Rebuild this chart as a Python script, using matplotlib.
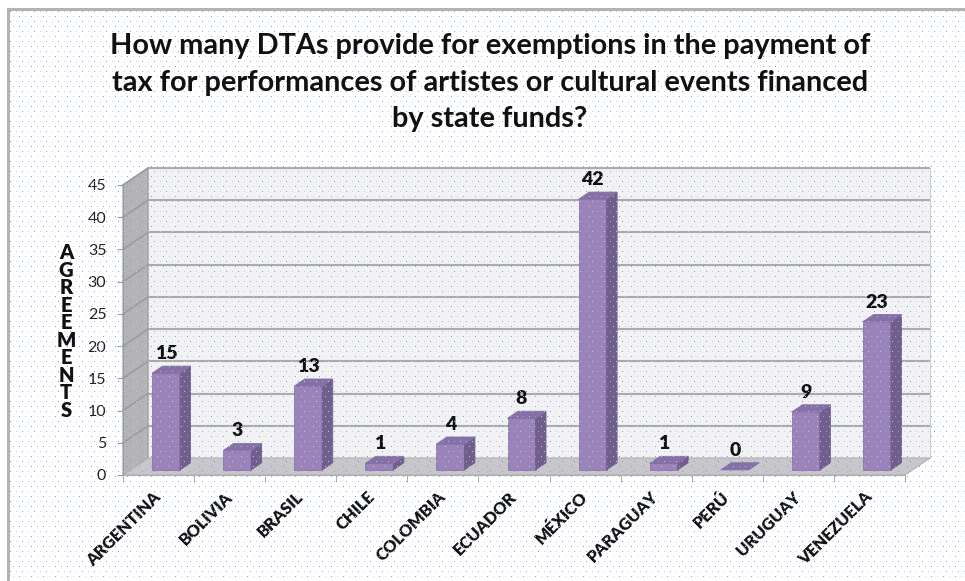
import numpy as np
import matplotlib
matplotlib.use("Agg")
import matplotlib.pyplot as plt
from matplotlib.patches import Polygon
from matplotlib.lines import Line2D

# data
countries = ["ARGENTINA", "BOLIVIA", "BRASIL", "CHILE", "COLOMBIA", "ECUADOR",
             "MÉXICO", "PARAGUAY", "PERÚ", "URUGUAY", "VENEZUELA"]
agreements = [15, 3, 13, 1, 4, 8, 42, 1, 0, 9, 23]
yticks = list(range(0, 46, 5))
title = ("How many DTAs provide for exemptions in the payment of\n"
         "tax for performances of artistes or cultural events financed\n"
         "by state funds?")
ylabel = "AGREEMENTS"

FONT = "Lato"
W, H = 965, 581

fig = plt.figure(figsize=(W / 100, H / 100), dpi=100)

# dotted background of the chart area
bg = np.zeros((H, W, 4))
for k, r in enumerate(range(11, H, 5)):
    off = 0 if k % 2 == 0 else 3
    for j, c in enumerate(range(10 + off, W, 6)):
        if (j + k) % 2 == 0:
            bg[r, c] = (0.45, 0.65, 0.87, 1.0)
        else:
            bg[r, c] = (0.75, 0.83, 0.93, 0.9)
fig.figimage(bg, 0, 0, zorder=0, origin="upper")

# thin gray frame on top/left
fig.add_artist(Line2D([7.5 / W, 7.5 / W], [0, 1 - 9 / H], color="#b3b3b3", lw=2.2,
                      transform=fig.transFigure))
fig.add_artist(Line2D([7.5 / W, 1], [1 - 9 / H, 1 - 9 / H], color="#b3b3b3", lw=2.2,
                      transform=fig.transFigure))

ax = fig.add_axes([123 / W, (H - 475) / H, 782 / W, 290 / H])
ax.patch.set_visible(False)
n = len(countries)
ax.set_xlim(0, n)
ax.set_ylim(0, 45)

# depth offsets of the pseudo-3D box, in data units
px_x = 782 / n
px_y = 290 / 45
DX = 25 / px_x
DY = 17 / px_y

wall_kw = dict(clip_on=False, lw=0.8)
# back wall
ax.add_patch(Polygon([(DX, DY), (n + DX, DY), (n + DX, 45 + DY), (DX, 45 + DY)],
                     closed=True, fc="#f2f2f4", ec="#d0d0d0", zorder=1, **wall_kw))
# side wall
ax.add_patch(Polygon([(0, 0), (DX, DY), (DX, 45 + DY), (0, 45)],
                     closed=True, fc="#b4b4b7", ec="#a0a0a0", zorder=1, **wall_kw))
# floor
ax.add_patch(Polygon([(0, 0), (n, 0), (n + DX, DY), (DX, DY)],
                     closed=True, fc="#c8c6ca", ec="#b0b0b0", zorder=1, **wall_kw))

# gridlines on back and side walls
for v in yticks[1:]:
    ax.plot([DX, n + DX], [v + DY, v + DY], color="#ababab", lw=1.5, zorder=2,
            clip_on=False, solid_capstyle="butt")
    ax.plot([0, DX], [v, v + DY], color="#9c9c9c", lw=1.2, zorder=2, clip_on=False)

# bars
BW = 28 / px_x
F0 = 0.30
DB = 0.42
front_c, side_c, top_c = "#9b83ba", "#725e8c", "#8670a5"
for i, v in enumerate(agreements):
    x0 = i + 0.5 - BW / 2 + F0 * DX
    y0 = F0 * DY
    ddx, ddy = DB * DX, DB * DY
    if v > 0:
        ax.add_patch(Polygon([(x0, y0), (x0 + BW, y0), (x0 + BW, y0 + v), (x0, y0 + v)],
                             closed=True, fc=front_c, ec="#8c74aa", lw=0.6, zorder=3, clip_on=False))
        ax.add_patch(Polygon([(x0 + BW, y0), (x0 + BW + ddx, y0 + ddy),
                              (x0 + BW + ddx, y0 + v + ddy), (x0 + BW, y0 + v)],
                             closed=True, fc=side_c, ec=side_c, lw=0.6, zorder=3, clip_on=False))
    ax.add_patch(Polygon([(x0, y0 + v), (x0 + BW, y0 + v), (x0 + BW + ddx, y0 + v + ddy),
                          (x0 + ddx, y0 + v + ddy)],
                         closed=True, fc=top_c, ec=top_c, lw=0.6, zorder=3, clip_on=False))
    ax.annotate(str(v), (x0 + BW / 2, y0 + v + ddy), xytext=(0, 5), textcoords="offset points",
                ha="center", va="baseline", fontsize=14, fontweight="heavy",
                family=FONT, color="#111111", zorder=4, annotation_clip=False)

# axes styling
for s in ("top", "right"):
    ax.spines[s].set_visible(False)
ax.spines["left"].set_color("#9a9a9a")
ax.spines["bottom"].set_color("#b0b0b0")
ax.spines["left"].set_zorder(2.5)
ax.spines["bottom"].set_zorder(2.5)

ax.set_yticks(yticks)
ax.set_yticklabels([str(t) for t in yticks], family=FONT, fontsize=11.5, color="#222222")
ax.tick_params(axis="y", direction="out", length=4, color="#a0a0a0", pad=8)

ax.set_xticks(np.arange(n + 1), minor=True)
ax.set_xticks(np.arange(n) + 0.5)
ax.set_xticklabels(countries, rotation=45, ha="right", va="center",
                   rotation_mode="anchor", family=FONT, fontsize=12, fontweight="heavy",
                   color="#111111")
ax.tick_params(axis="x", which="major", length=0, pad=14)
ax.tick_params(axis="x", which="minor", direction="out", length=5, color="#a0a0a0")

# title
fig.text(490 / W, 1 - 33 / H, title, ha="center", va="top", fontsize=20.8,
         fontweight="bold", family=FONT, linespacing=1.5, color="#111111")

# stacked y label
for k, ch in enumerate(ylabel):
    fig.text(66 / W, 1 - (252.5 + 17.55 * k) / H, ch, ha="center", va="center",
             fontsize=14.5, fontweight="heavy", family=FONT, color="#111111")

fig.savefig("out.png", dpi=100)
